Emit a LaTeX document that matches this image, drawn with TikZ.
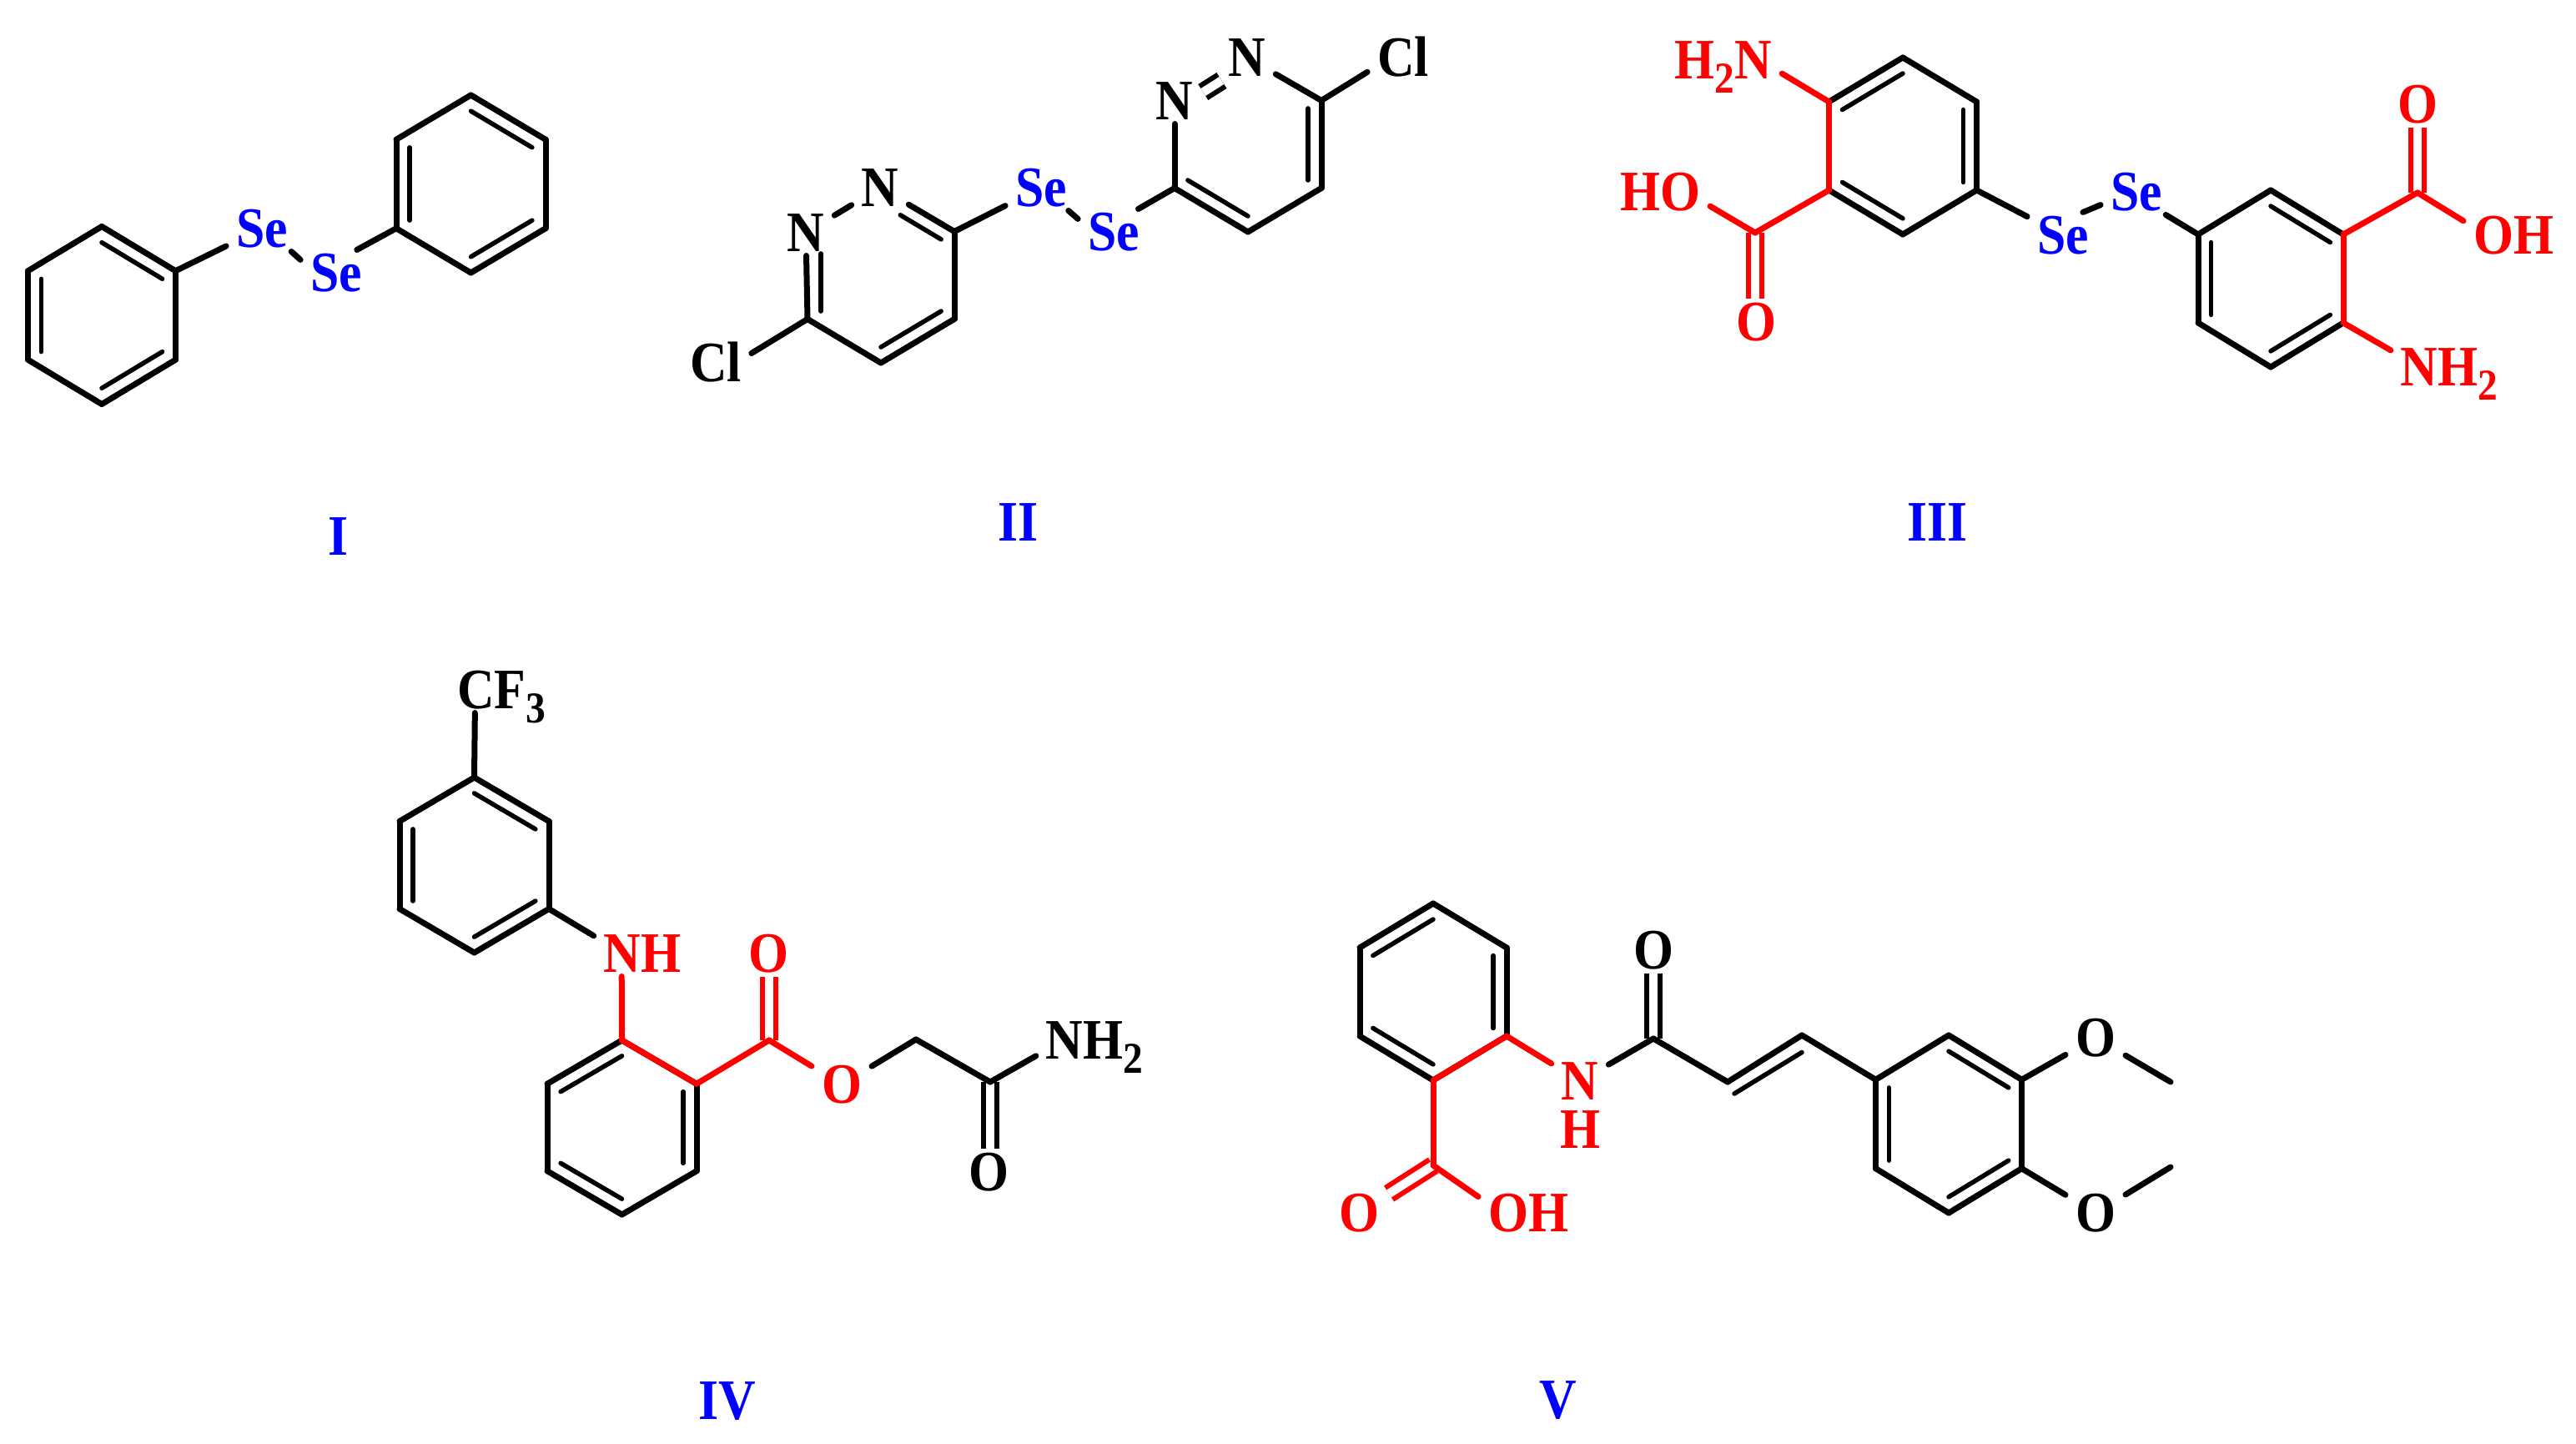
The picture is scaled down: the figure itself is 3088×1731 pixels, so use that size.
\documentclass[tikz,border=0pt]{standalone}
\usepackage{fontspec}
\setmainfont[FakeStretch=.9]{Liberation Serif}
\usetikzlibrary{calc, positioning}
\newcommand{\subs}[1]{\raisebox{-.25em}{\fontsize{15}{15}\selectfont #1}}
\newcommand{\hexring}[6][1/2,2/3,3/4,4/5,5/6,6/1]{%
  \coordinate (#2) at (#3,#4);
  \coordinate (#21) at (#3,#4-#6);
  \coordinate (#22) at (#3+#5,#4-#6/2);
  \coordinate (#23) at (#3+#5,#4+#6/2);
  \coordinate (#24) at (#3,#4+#6);
  \coordinate (#25) at (#3-#5,#4+#6/2);
  \coordinate (#26) at (#3-#5,#4-#6/2);
  \foreach \a/\b in {#1}{
    \draw [bond] (#2\a) -- (#2\b);
  };
}
\newcommand{\hexinner}[2]{%
  \foreach \a/\b in {#2}{
    \draw [inbond] ($(#1\a)!.18!(#1)$) -- ($(#1\b)!.18!(#1)$);
  };
}
\tikzset{
  atom/.style={font=\bfseries\fontsize{19.5}{21}\selectfont, text height=.45cm, text depth=0pt,
    inner xsep=.12cm, inner ysep=.05cm, outer sep=0pt},
  redatom/.style={atom, text=red},
  blueatom/.style={atom, text=blue},
  bond/.style={line width=.07cm, line cap=round},
  redbond/.style={bond, draw=red},
  inbond/.style={line width=.055cm, line cap=round},
  dblbond/.style={line width=.06cm, double, double distance=.105cm},
  reddbl/.style={dblbond, draw=red}
}

\begin{document}
\begin{tikzpicture}[x=.01cm, y=-.01cm]
  \useasboundingbox (0,0) rectangle (3088,1731);

  \hexring{pha}{122}{378}{88.5}{106.5}
  \hexring{phb}{564.5}{220.5}{89.5}{106.5}
  \hexinner{pha}{1/2,6/5,3/4}
  \hexinner{phb}{1/2,6/5,3/4}
  \node [blueatom] (sea) at (314,274) {Se};
  \node [blueatom] (seb) at (403,327) {Se};
  \draw [bond] (pha2) -- (sea);
  \draw [bond] (sea.-38) -- (seb.160);
  \draw [bond] (phb5) -- (seb.48);
  \node [blueatom] (labi) at (406,643) {I};

  \hexring[2/3,3/4,4/5]{dza}{1056}{330}{88}{105}
  \hexring[2/3,3/4,4/5]{dzb}{1496}{173}{88}{105}
  \hexinner{dzb}{2/3,5/4}
  \hexinner{dza}{3/4}
  \node [atom] (na) at (966,279) {N};
  \node [atom] (nb) at (1055,225) {N};
  \node [atom] (nc) at (1408,121) {N};
  \node [atom] (nd) at (1495,69) {N};
  \node [atom] (cla) at (858,435) {Cl};
  \node [atom] (clb) at (1682,69) {Cl};
  \node [blueatom] (sec) at (1248,225) {Se};
  \node [blueatom] (sed) at (1335,278) {Se};
  \draw [dblbond] (nc.17) -- (nd.222);
  \foreach \a/\b in {na/nb,nb/dza2,dza5/na,nc/dzb5,nd/dzb2}{
    \draw [bond] (\a) -- (\b);
  };
  \draw [inbond, shorten <=.27cm] ($(dza1)!.18!(dza)$) -- ($(dza2)!.18!(dza)$);
  \draw [inbond, shorten <=.17cm] ($(dza6)!.18!(dza)$) -- ($(dza5)!.18!(dza)$);
  \draw [bond] (dza5) -- (cla.15);
  \draw [bond] (dzb2) -- (clb.-158);
  \draw [bond] (dza2) -- (sec);
  \draw [bond] (sec.-40) -- (sed.160);
  \draw [bond] (dzb5) -- (sed.43);
  \node [blueatom] (labii) at (1220,626) {II};

  \hexring{ana}{2281}{175}{88.5}{106}
  \hexring{anb}{2722}{334}{87}{106}
  \hexinner{ana}{6/1,2/3,5/4}
  \hexinner{anb}{1/2,6/5,3/4}
  \coordinate (cooa) at (2104,279);
  \coordinate (coob) at (2898,231);
  \node [redatom] (hna) at (2066,72) {H\subs{2}N};
  \node [redatom] (hoa) at (1990,230) {HO};
  \node [redatom] (oa) at (2105,386) {O};
  \node [redatom] (hob) at (3013,282) {OH};
  \node [redatom] (ob) at (2898,125) {O};
  \node [redatom] (hnb) at (2936,440) {NH\subs{2}};
  \node [blueatom] (see) at (2473,282) {Se};
  \node [blueatom] (sef) at (2561,230) {Se};
  \draw [reddbl] (cooa) -- (cooa |- oa.north);
  \draw [reddbl] (coob) -- (coob |- ob.south);
  \foreach \a/\b in {ana6/ana5,ana5/cooa,anb2/anb3,anb2/coob}{
    \draw [redbond] (\a) -- (\b);
  };
  \draw [redbond] (ana6) -- (hna.-13);
  \draw [redbond] (cooa) -- (hoa.-16);
  \draw [redbond] (coob) -- (hob.164);
  \draw [redbond] (anb3) -- (hnb.164);
  \draw [bond] (ana3) -- (see);
  \draw [bond] (see.49) -- (sef.200);
  \draw [bond] (sef.-38) -- (anb6);
  \node [blueatom] (labiii) at (2322,626) {III};

  \hexring{tfa}{568.5}{1037}{89.5}{105}
  \hexring{tfb}{745.5}{1351.5}{89.5}{104.5}
  \hexinner{tfa}{1/2,6/5,3/4}
  \hexinner{tfb}{6/1,2/3,5/4}
  \coordinate (esc) at (922,1247);
  \coordinate (ch) at (1098,1246);
  \coordinate (amc) at (1187,1297);
  \node [atom] (cf) at (601,827) {CF\subs{3}};
  \node [redatom] (nhb) at (770,1143) {NH};
  \node [redatom] (oc) at (921,1143) {O};
  \node [redatom] (od) at (1009,1300) {O};
  \node [atom] (nhc) at (1312,1247) {NH\subs{2}};
  \node [atom] (oe) at (1185,1405) {O};
  \draw [reddbl] (esc) -- (esc |- oc.south);
  \draw [dblbond] (amc) -- (amc |- oe.north);
  \draw [bond] (tfa1) -- (cf.221);
  \draw [bond] (tfa3) -- (nhb.160);
  \foreach \a/\b in {tfb1/tfb2,tfb2/esc,esc/od}{
    \draw [redbond] (\a) -- (\b);
  };
  \draw [redbond] (tfb1) -- (nhb.228);
  \draw [bond] (od) -- (ch);
  \draw [bond] (ch) -- (amc);
  \draw [bond] (amc) -- (nhc.195);
  \node [blueatom] (labiv) at (872,1679) {IV};

  \hexring{cna}{1718}{1189}{88}{106}
  \hexring{cnb}{2336}{1347.5}{87.5}{106.5}
  \hexinner{cna}{6/1,2/3,5/4}
  \hexinner{cnb}{1/2,6/5,3/4}
  \coordinate (cooc) at (1718,1397);
  \coordinate (amd) at (1982,1245);
  \coordinate (cha) at (2071,1297);
  \coordinate (chb) at (2160,1241);
  \coordinate (chc) at (2079,1311);
  \coordinate (chd) at (2160,1261.5);
  \coordinate (mea) at (2602,1297);
  \coordinate (meb) at (2602,1399);
  \node [redatom] (ne) at (1894,1296) {N};
  \node [redatom, below=.03cm of ne] (he) {H};
  \node [redatom] (of) at (1629,1454) {O};
  \node [redatom] (hoc) at (1832,1454) {OH};
  \node [atom] (og) at (1982,1139) {O};
  \node [atom] (oh) at (2512,1244) {O};
  \node [atom] (oi) at (2512,1454) {O};
  \draw [reddbl] (cooc) -- (of);
  \draw [dblbond] (amd) -- (og);
  \foreach \a/\b in {cna3/cna4,cna4/cooc,cna3/ne}{
    \draw [redbond] (\a) -- (\b);
  };
  \draw [redbond] (cooc) -- (hoc.162);
  \foreach \a/\b in {ne/amd,amd/cha,cha/chb,chb/cnb6,cnb2/oh,oh/mea,cnb3/oi,oi/meb}{
    \draw [bond] (\a) -- (\b);
  };
  \draw [inbond] (chc) -- (chd);
  \node [blueatom] (labv) at (1868,1678) {V};
\end{tikzpicture}
\end{document}
